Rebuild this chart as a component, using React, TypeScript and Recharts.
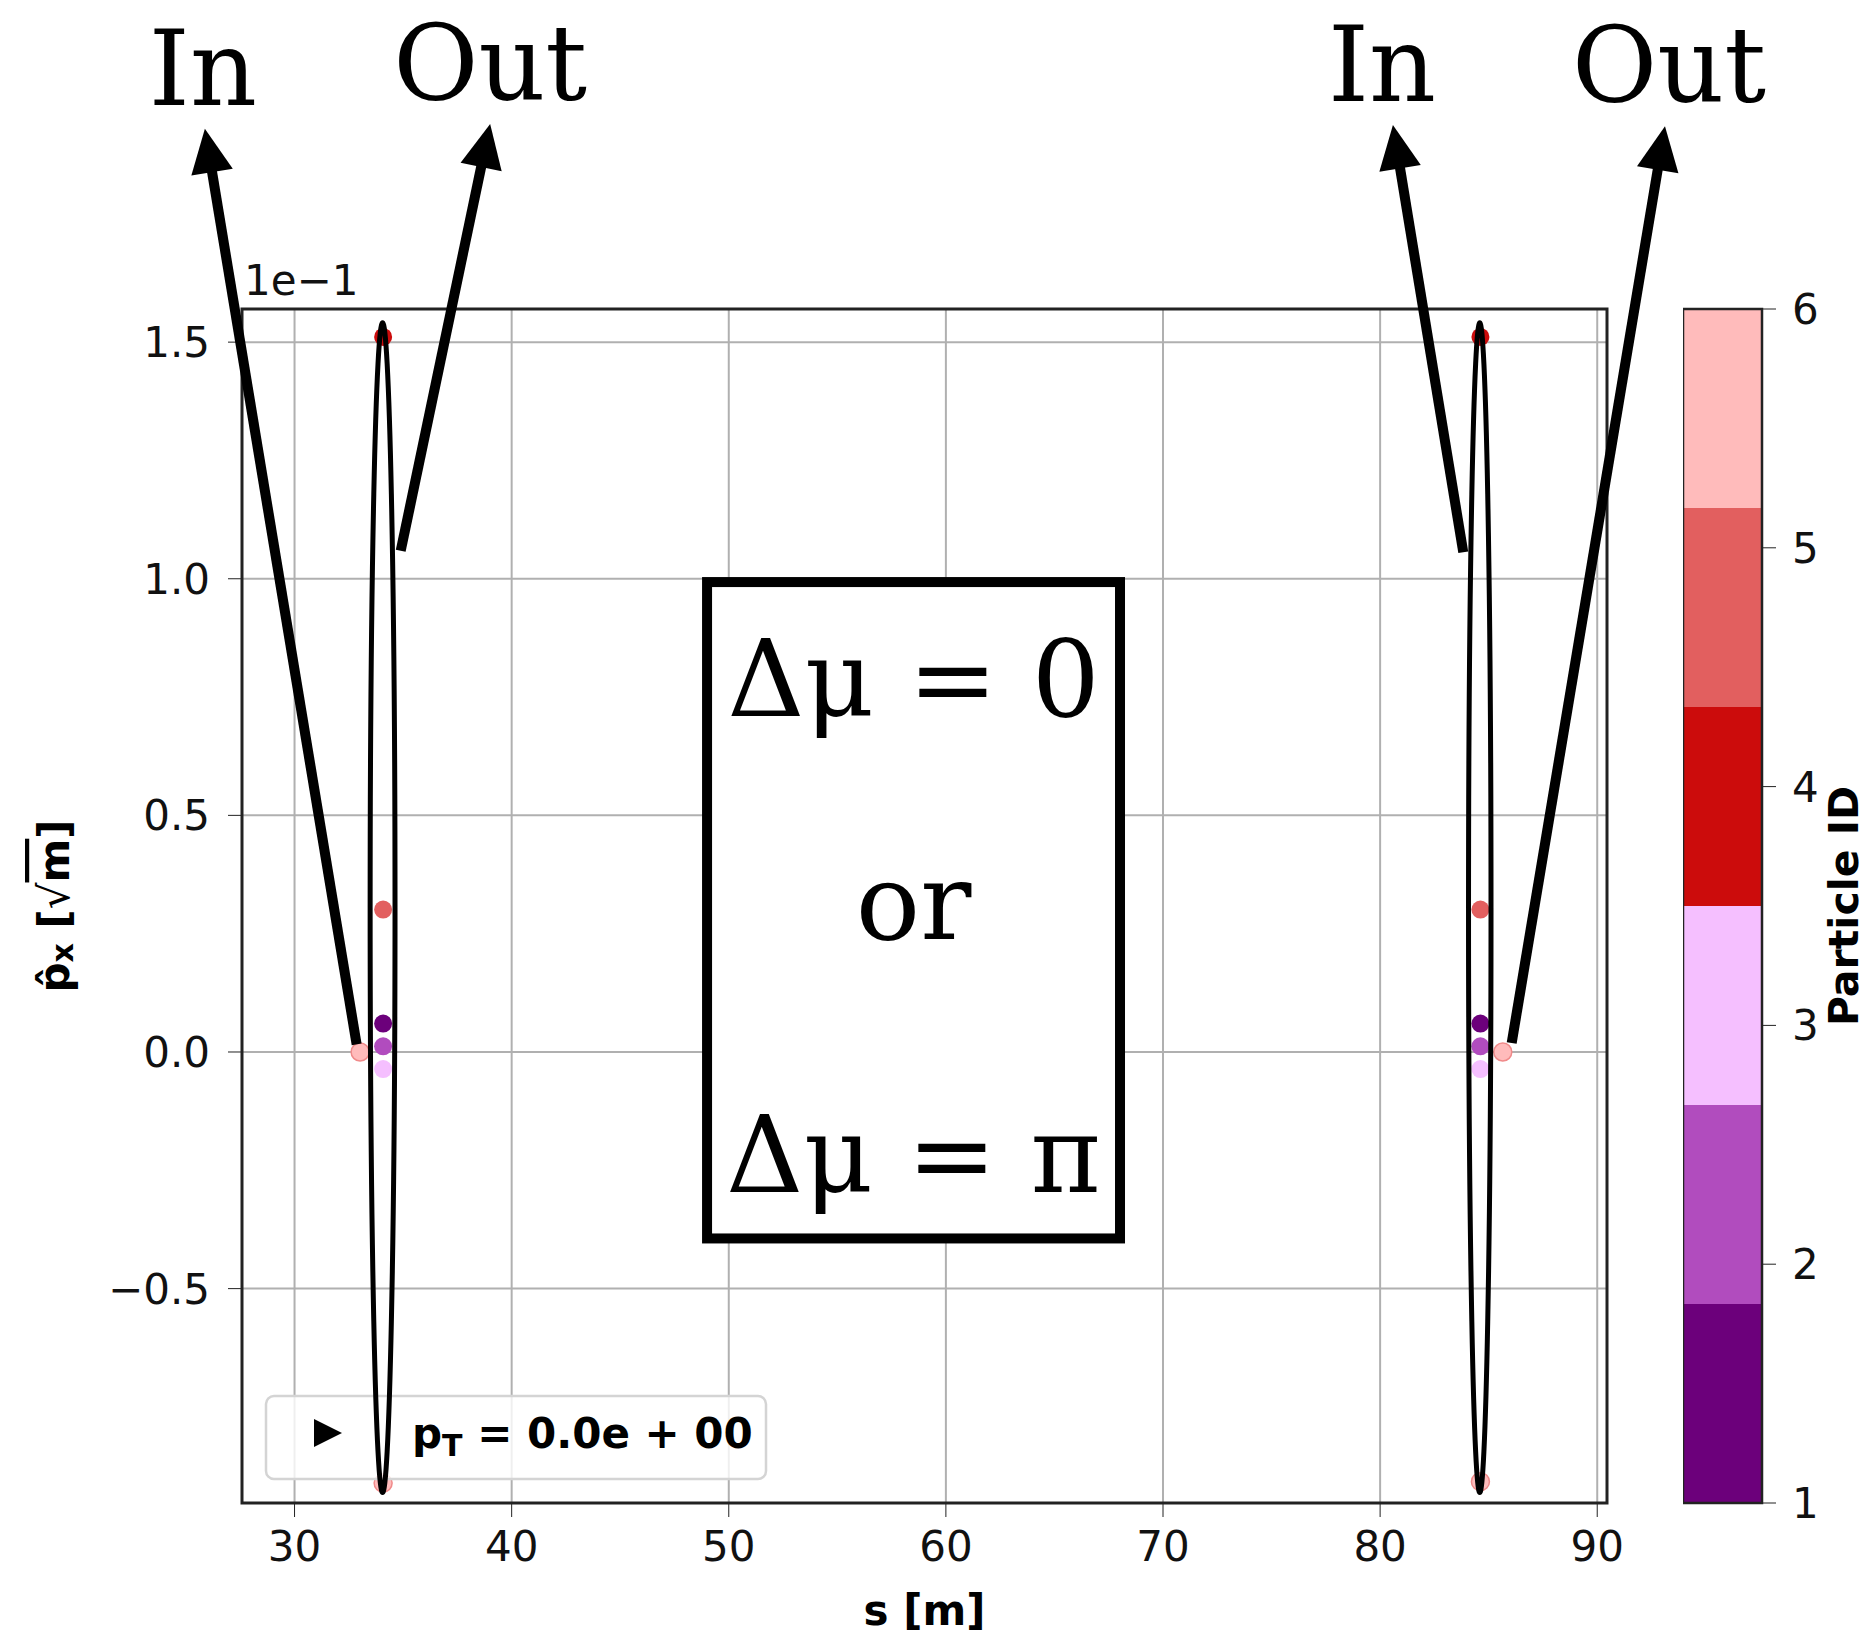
import React from "react";
import {
  ScatterChart,
  ComposedChart,
  Scatter,
  XAxis,
  YAxis,
  CartesianGrid,
  ReferenceArea,
  ReferenceLine,
} from "recharts";

// axes
const xTicks = [30, 40, 50, 60, 70, 80, 90];
const yTicks = [-0.5, 0, 0.5, 1.0, 1.5];
const xDomain = [27.58, 90.45];
const yDomain = [-0.953, 1.57];

// particles (px in units of 1e-1)
const particleColors = ["#6c007b", "#b14cbe", "#f5bfff", "#cc0c0c", "#e25f5f", "#ffbbbb"];
const particle1 = [{ s: 34.08, px: 0.06 }, { s: 84.62, px: 0.06 }];
const particle2 = [{ s: 34.08, px: 0.012 }, { s: 84.62, px: 0.012 }];
const particle3 = [{ s: 34.08, px: -0.036 }, { s: 84.62, px: -0.036 }];
const particle4 = [{ s: 34.08, px: 1.511 }, { s: 84.62, px: 1.511 }];
const particle5 = [{ s: 34.08, px: 0.301 }, { s: 84.62, px: 0.301 }];
const particle6 = [
  { s: 34.08, px: -0.911 },
  { s: 84.62, px: -0.908 },
  { s: 33.02, px: 0.0 },
  { s: 85.65, px: 0.0 },
];
const particles = [particle1, particle2, particle3, particle4, particle5, particle6];

// colorbar
const cbTicks = [1, 2, 3, 4, 5, 6];
const cbEdges = [1, 1.833, 2.667, 3.5, 4.333, 5.167, 6];

// annotations drawn over the figure
const arrows = [
  { text: "In", dx: -2, from: { x: 32.86, y: 0.016 }, to: { x: 25.87, y: 1.951 } },
  { text: "Out", dx: 0, from: { x: 34.89, y: 1.059 }, to: { x: 39.01, y: 1.961 } },
  { text: "In", dx: -11, from: { x: 83.83, y: 1.056 }, to: { x: 80.59, y: 1.959 } },
  { text: "Out", dx: 4, from: { x: 86.06, y: 0.019 }, to: { x: 93.12, y: 1.956 } },
];
const ellipses = [
  { s1: 33.39, s2: 34.72, p1: -0.935, p2: 1.545 },
  { s1: 83.98, s2: 85.2, p1: -0.935, p2: 1.545 },
];
const boxText = ["Δμ = 0", "or", "Δμ = π"];
const boxRange = { s1: 49.0, s2: 68.02, p1: -0.394, p2: 0.993 };

const SANS = "DejaVu Sans";
const SERIF = "DejaVu Serif";

const fmtY = (v: number) => (v < 0 ? `\u2212${Math.abs(v).toFixed(1)}` : v.toFixed(1));

const Arrow = (props: any) => {
  const { x1, y1, x2, y2, text, textDx } = props;
  const dx = x2 - x1;
  const dy = y2 - y1;
  const len = Math.hypot(dx, dy);
  const ux = dx / len;
  const uy = dy / len;
  const headLen = 44;
  const half = 21;
  const bx = x2 - ux * headLen;
  const by = y2 - uy * headLen;
  const pts = `${x2},${y2} ${bx - uy * half},${by + ux * half} ${bx + uy * half},${by - ux * half}`;
  return (
    <g>
      <line x1={x1} y1={y1} x2={bx + ux * 4} y2={by + uy * 4} stroke="#000" strokeWidth={10} />
      <polygon points={pts} fill="#000" />
      <text
        x={x2 + textDx}
        y={y2 - 24}
        textAnchor="middle"
        fontFamily={SERIF}
        fontSize={104}
        fill="#000"
      >
        {text}
      </text>
    </g>
  );
};

const Ellipse = (props: any) => {
  const { x, y, width, height } = props;
  return (
    <ellipse
      cx={x + width / 2}
      cy={y + height / 2}
      rx={width / 2 - 2}
      ry={height / 2 - 2}
      fill="none"
      stroke="#000"
      strokeWidth={5}
    />
  );
};

const TextBox = (props: any) => {
  const { x, y, width, height } = props;
  const cx = x + width / 2;
  const baselines = [134, 357, 610];
  return (
    <g>
      <rect x={x} y={y} width={width} height={height} fill="#fff" stroke="#000" strokeWidth={10} />
      {boxText.map((t, i) => (
        <text
          key={i}
          x={cx}
          y={y + baselines[i]}
          textAnchor="middle"
          fontFamily={SERIF}
          fontSize={107}
          fill="#000"
        >
          {t}
        </text>
      ))}
    </g>
  );
};

// plot frame, legend box and the 1e-1 offset label
const PlotFrame = (props: any) => {
  const { x, y, width, height } = props;
  const lx = x + 24;
  const ly = y + height - 107;
  return (
    <g>
      <rect x={x} y={y} width={width} height={height} fill="none" stroke="#222" strokeWidth={3} />
      <text x={x + 2} y={y - 14} fontFamily={SANS} fontSize={42} fill="#111">
        1e−1
      </text>
      <rect
        x={lx}
        y={ly}
        width={500}
        height={83}
        rx={8}
        fill="#fff"
        fillOpacity={0.8}
        stroke="#d4d4d4"
        strokeWidth={2.5}
      />
      <polygon
        points={`${lx + 76},${ly + 37} ${lx + 48},${ly + 23} ${lx + 48},${ly + 51}`}
        fill="#000"
      />
      <text x={lx + 146} y={ly + 52} fontFamily={SANS} fontWeight="bold" fontSize={42} fill="#000">
        <tspan>p</tspan>
        <tspan fontSize={30} dy={8}>T</tspan>
        <tspan dy={-8}> = 0.0e + 00</tspan>
      </text>
    </g>
  );
};

const XLabel = (props: any) => {
  const vb = props.viewBox || { x: 0, y: 0, width: 0 };
  return (
    <text
      x={vb.x + vb.width / 2}
      y={vb.y + 122}
      textAnchor="middle"
      fontFamily={SANS}
      fontWeight="bold"
      fontSize={42}
      fill="#000"
    >
      s [m]
    </text>
  );
};

const YLabel = (props: any) => {
  const vb = props.viewBox || { x: 0, y: 0, height: 0 };
  const cx = 54;
  const cy = vb.y + vb.height / 2;
  return (
    <text
      x={cx}
      y={cy}
      transform={`rotate(-90 ${cx} ${cy})`}
      textAnchor="middle"
      dominantBaseline="central"
      fontFamily={SANS}
      fontWeight="bold"
      fontSize={42}
      fill="#000"
    >
      <tspan>p̂</tspan>
      <tspan fontSize={30} dy={8}>x</tspan>
      <tspan dy={-8}> [</tspan>
      <tspan fontWeight="normal">√</tspan>
      <tspan textDecoration="overline">m</tspan>
      <tspan>]</tspan>
    </text>
  );
};

const CbLabel = (props: any) => {
  const vb = props.viewBox || { x: 0, y: 0, height: 0 };
  const bx = 175;
  const cy = vb.y + vb.height / 2;
  return (
    <text
      x={bx}
      y={cy}
      transform={`rotate(-90 ${bx} ${cy})`}
      textAnchor="middle"
      fontFamily={SANS}
      fontWeight="bold"
      fontSize={41}
      fill="#000"
    >
      Particle ID
    </text>
  );
};

const tickStyle = { fontSize: 42, fill: "#111", fontFamily: SANS };
const plotMargin = { top: 309, right: 263, bottom: 0, left: 0 };

export default function App() {
  return (
    <div style={{ position: "relative", width: 1870, height: 1636, background: "#fff" }}>
      <style>{"body{margin:0;background:#fff}"}</style>
      <div style={{ position: "absolute", left: 0, top: 0 }}>
        <ScatterChart width={1870} height={1636} margin={plotMargin}>
          <CartesianGrid stroke="#b0b0b0" strokeWidth={2} />
          <XAxis
            type="number"
            dataKey="s"
            domain={xDomain}
            ticks={xTicks}
            allowDataOverflow
            height={133}
            tickSize={14}
            tickMargin={14}
            tick={tickStyle}
            stroke="#222"
            label={<XLabel />}
          />
          <YAxis
            type="number"
            dataKey="px"
            domain={yDomain}
            ticks={yTicks}
            allowDataOverflow
            width={242}
            tickSize={14}
            tickMargin={18}
            tick={tickStyle}
            tickFormatter={fmtY}
            stroke="#222"
            label={<YLabel />}
          />
          {particles.map((d, i) => (
            <Scatter
              key={i}
              data={d}
              isAnimationActive={false}
              shape={(p: any) => (
                <circle
                  cx={p.cx}
                  cy={p.cy}
                  r={9}
                  fill={particleColors[i]}
                  stroke={i === 5 ? "#f08a8a" : "none"}
                  strokeWidth={1.5}
                />
              )}
            />
          ))}
        </ScatterChart>
      </div>
      {/* annotation layer on the same axes, drawn above the data */}
      <div style={{ position: "absolute", left: 0, top: 0, pointerEvents: "none" }}>
        <ScatterChart width={1870} height={1636} margin={plotMargin}>
          <XAxis type="number" dataKey="s" domain={xDomain} allowDataOverflow height={133} tick={false} tickLine={false} axisLine={false} />
          <YAxis type="number" dataKey="px" domain={yDomain} allowDataOverflow width={242} tick={false} tickLine={false} axisLine={false} />
          <ReferenceArea
            x1={xDomain[0]}
            x2={xDomain[1]}
            y1={yDomain[0]}
            y2={yDomain[1]}
            ifOverflow="visible"
            shape={(p: any) => <PlotFrame {...p} />}
          />
          <ReferenceArea
            x1={boxRange.s1}
            x2={boxRange.s2}
            y1={boxRange.p1}
            y2={boxRange.p2}
            ifOverflow="visible"
            shape={(p: any) => <TextBox {...p} />}
          />
          {ellipses.map((e, i) => (
            <ReferenceArea
              key={`e${i}`}
              x1={e.s1}
              x2={e.s2}
              y1={e.p1}
              y2={e.p2}
              ifOverflow="visible"
              shape={(p: any) => <Ellipse {...p} />}
            />
          ))}
          {arrows.map((a, i) => (
            <ReferenceLine
              key={`a${i}`}
              segment={[a.from, a.to]}
              ifOverflow="visible"
              shape={(p: any) => <Arrow {...p} text={a.text} textDx={a.dx} />}
            />
          ))}
        </ScatterChart>
      </div>
      <div style={{ position: "absolute", left: 1683, top: 0 }}>
        <ComposedChart
          width={187}
          height={1636}
          data={[{ x: 0, y: 1 }, { x: 1, y: 6 }]}
          margin={{ top: 309, right: 0, bottom: 133, left: 0 }}
        >
          <XAxis type="number" dataKey="x" domain={[0, 1]} hide />
          <YAxis
            type="number"
            dataKey="y"
            orientation="right"
            domain={[1, 6]}
            ticks={cbTicks}
            width={108}
            tickSize={14}
            tickMargin={16}
            tick={{ ...tickStyle, textAnchor: "start" }}
            stroke="#222"
            label={<CbLabel />}
          />
          {particleColors.map((c, i) => (
            <ReferenceArea
              key={i}
              x1={0}
              x2={1}
              y1={cbEdges[i]}
              y2={cbEdges[i + 1]}
              fill={c}
              fillOpacity={1}
              ifOverflow="visible"
            />
          ))}
          <ReferenceArea
            x1={0}
            x2={1}
            y1={1}
            y2={6}
            fill="none"
            stroke="#222"
            strokeWidth={2.5}
            ifOverflow="visible"
          />
        </ComposedChart>
      </div>
    </div>
  );
}
